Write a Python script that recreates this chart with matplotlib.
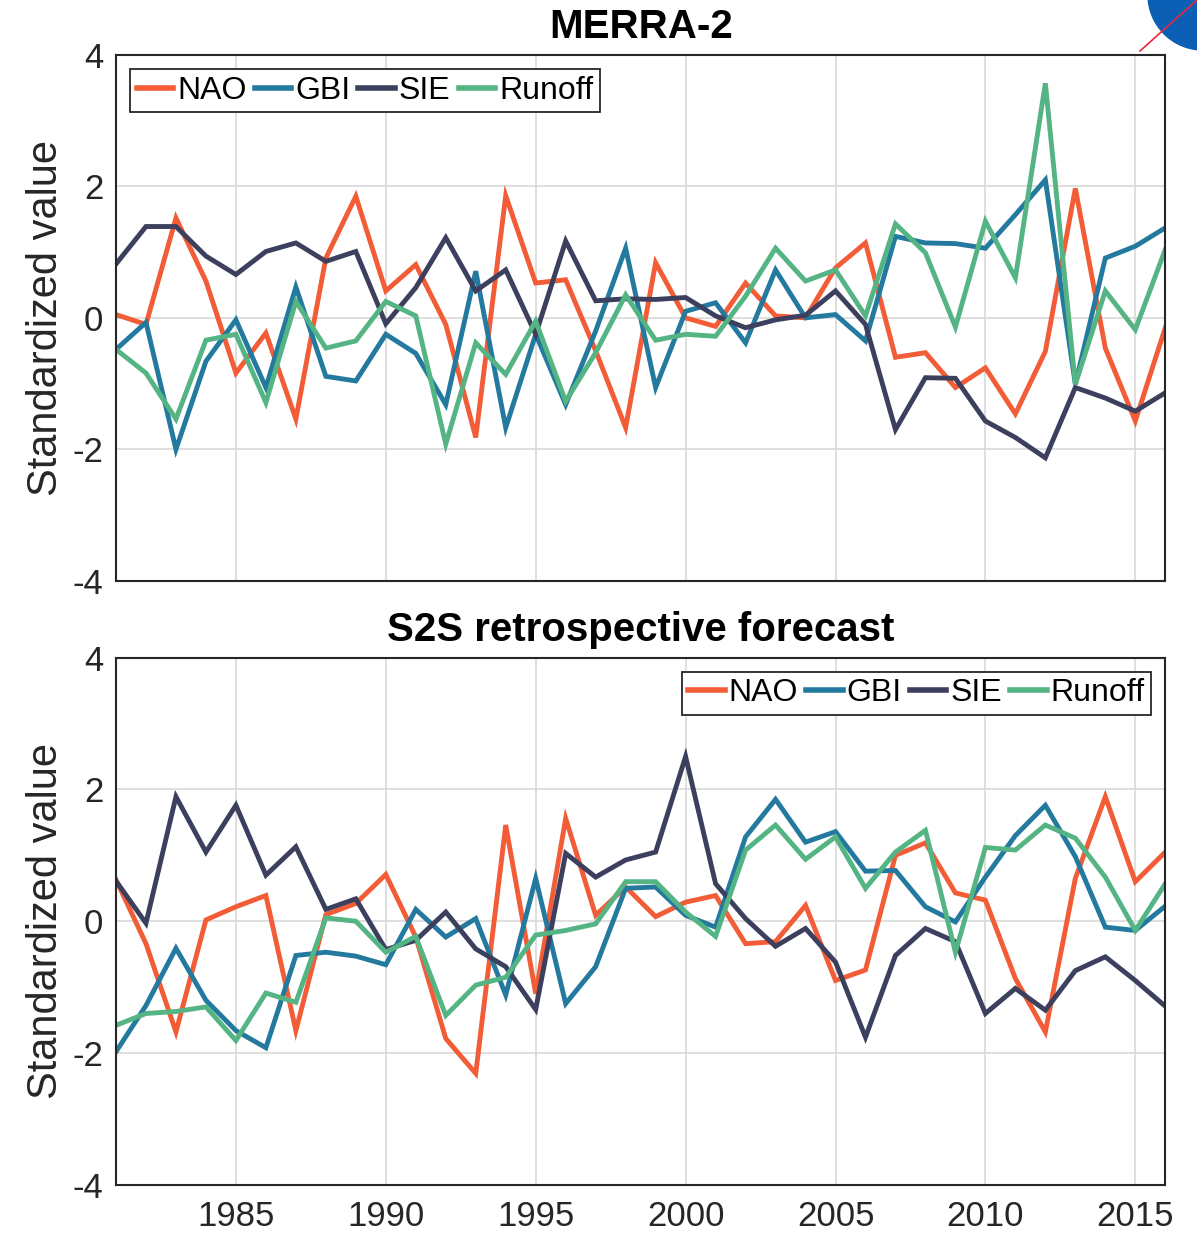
# MERRA-2 与 S2S 回报预测的标准化指数时间序列
import matplotlib.pyplot as plt
from matplotlib.patches import Circle
from matplotlib.lines import Line2D

plt.rcParams['font.family'] = ['Liberation Sans', 'DejaVu Sans']
plt.rcParams['axes.unicode_minus'] = False

years = list(range(1981, 2017))
names = ['NAO', 'GBI', 'SIE', 'Runoff']
colors = ['#F25C36', '#23799E', '#3C3F5D', '#55B483']

# 上图 MERRA-2
merra_nao = [0.05, -0.10, 1.52, 0.56, -0.84, -0.23, -1.54, 0.91, 1.85, 0.41,
             0.81, -0.10, -1.82, 1.86, 0.53, 0.58, -0.50, -1.67, 0.84, 0.00,
             -0.13, 0.53, 0.03, 0.00, 0.76, 1.14, -0.60, -0.53, -1.06, -0.76,
             -1.46, -0.51, 1.97, -0.46, -1.57, -0.15]
merra_gbi = [-0.48, -0.07, -2.00, -0.66, -0.03, -1.06, 0.47, -0.89, -0.96, -0.25,
             -0.54, -1.32, 0.71, -1.67, -0.25, -1.32, -0.20, 1.06, -1.06, 0.10,
             0.23, -0.38, 0.73, 0.00, 0.05, -0.35, 1.24, 1.14, 1.13, 1.06,
             1.57, 2.10, -1.01, 0.91, 1.09, 1.37]
merra_sie = [0.82, 1.39, 1.39, 0.94, 0.66, 1.01, 1.14, 0.86, 1.01, -0.09,
             0.46, 1.22, 0.41, 0.73, -0.25, 1.17, 0.26, 0.29, 0.28, 0.31,
             0.03, -0.15, -0.03, 0.04, 0.41, -0.10, -1.70, -0.91, -0.92, -1.57,
             -1.82, -2.13, -1.06, -1.22, -1.42, -1.14]
merra_runoff = [-0.48, -0.84, -1.54, -0.34, -0.25, -1.29, 0.25, -0.46, -0.35, 0.25,
                0.03, -1.92, -0.38, -0.86, -0.05, -1.27, -0.53, 0.35, -0.34, -0.25,
                -0.28, 0.33, 1.06, 0.56, 0.73, 0.03, 1.43, 0.99, -0.14, 1.47,
                0.61, 3.57, -1.01, 0.41, -0.18, 1.04]

# 下图 S2S retrospective forecast
s2s_nao = [0.63, -0.34, -1.68, 0.02, 0.22, 0.39, -1.66, 0.10, 0.27, 0.71,
           -0.24, -1.78, -2.31, 1.46, -1.10, 1.56, 0.09, 0.52, 0.07, 0.29,
           0.39, -0.34, -0.31, 0.24, -0.90, -0.74, 1.00, 1.19, 0.43, 0.32,
           -0.87, -1.68, 0.65, 1.89, 0.60, 1.05]
s2s_gbi = [-1.98, -1.28, -0.41, -1.20, -1.66, -1.92, -0.52, -0.47, -0.53, -0.66,
           0.18, -0.24, 0.04, -1.12, 0.65, -1.25, -0.69, 0.50, 0.52, 0.09,
           -0.09, 1.28, 1.85, 1.20, 1.36, 0.76, 0.77, 0.22, -0.01, 0.67,
           1.30, 1.76, 0.98, -0.09, -0.14, 0.23]
s2s_sie = [0.61, -0.03, 1.89, 1.05, 1.76, 0.70, 1.13, 0.18, 0.34, -0.43,
           -0.29, 0.14, -0.42, -0.69, -1.34, 1.03, 0.67, 0.93, 1.05, 2.50,
           0.57, 0.04, -0.38, -0.11, -0.62, -1.76, -0.52, -0.11, -0.31, -1.40,
           -1.02, -1.35, -0.75, -0.54, -0.90, -1.29]
s2s_runoff = [-1.58, -1.40, -1.37, -1.30, -1.81, -1.09, -1.23, 0.05, 0.00, -0.47,
              -0.23, -1.43, -0.97, -0.85, -0.21, -0.14, -0.04, 0.60, 0.60, 0.14,
              -0.23, 1.08, 1.46, 0.94, 1.28, 0.50, 1.05, 1.38, -0.47, 1.12,
              1.08, 1.46, 1.26, 0.67, -0.14, 0.57]

panels = [('MERRA-2', [merra_nao, merra_gbi, merra_sie, merra_runoff], 'upper left'),
          ('S2S retrospective forecast', [s2s_nao, s2s_gbi, s2s_sie, s2s_runoff], 'upper right')]

fig = plt.figure(figsize=(11.97, 12.33), dpi=100)
boxes = [[0.0969, 0.5290, 0.8766, 0.4264], [0.0969, 0.0391, 0.8766, 0.4275]]

for i, (title, series, loc) in enumerate(panels):
    ax = fig.add_axes(boxes[i])
    for vals, name, c in zip(series, names, colors):
        ax.plot(years, vals, color=c, linewidth=3.5, label=name, solid_joinstyle='miter')
    ax.set_xlim(1981, 2016)
    ax.set_ylim(-4, 4)
    ax.set_xticks([1985, 1990, 1995, 2000, 2005, 2010, 2015])
    ax.set_yticks([-4, -2, 0, 2, 4])
    ax.grid(True, color='#d9d9d9', linewidth=1.2)
    ax.set_axisbelow(True)
    ax.tick_params(length=0, labelsize=25, labelcolor='#262626', pad=9)
    ax.tick_params(axis='x', pad=11)
    if i == 0:
        ax.tick_params(labelbottom=False)
    for s in ax.spines.values():
        s.set_color('#262626')
        s.set_linewidth(1.5)
    ax.set_title(title, fontsize=29, fontweight='bold', pad=12)
    ax.set_ylabel('Standardized value', fontsize=30, color='#262626', labelpad=5)
    leg = ax.legend(loc=loc, ncol=4, fontsize=23, handlelength=1.15, handletextpad=0.12,
                    columnspacing=0.25, borderpad=0.2, borderaxespad=0.45,
                    fancybox=False, framealpha=1)
    leg.get_frame().set_edgecolor('#262626')
    leg.get_frame().set_linewidth(1.3)
    for h in leg.get_lines():
        h.set_linewidth(4)

# 右上角的NASA标志（只露出一部分）
fig.patches.append(Circle((12.03, 12.38), 0.55, transform=fig.dpi_scale_trans,
                          color='#0B5FB5', zorder=10))
fig.lines.append(Line2D([11.40, 11.97], [11.82, 12.33], transform=fig.dpi_scale_trans,
                        color='#E8283A', linewidth=1.2, zorder=11))

plt.savefig('out.png', dpi=100)
